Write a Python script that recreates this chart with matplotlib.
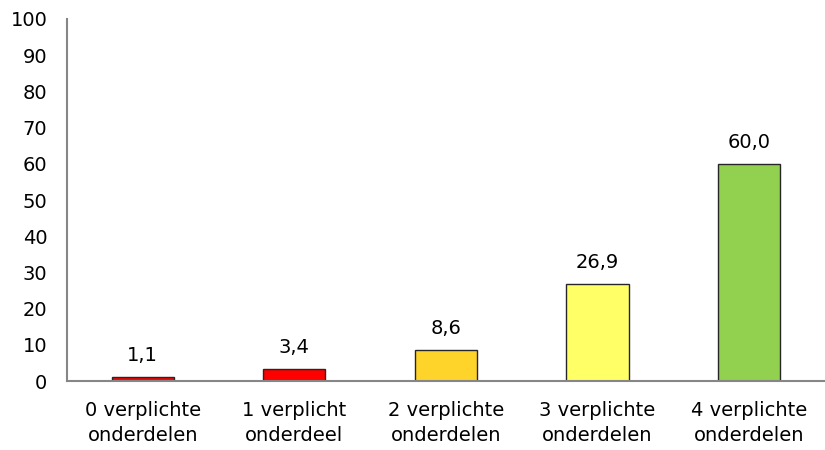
import matplotlib
matplotlib.use("Agg")
import matplotlib.pyplot as plt

# data
categories = ["0 verplichte\nonderdelen", "1 verplicht\nonderdeel", "2 verplichte\nonderdelen",
              "3 verplichte\nonderdelen", "4 verplichte\nonderdelen"]
values = [1.1, 3.4, 8.6, 26.9, 60.0]
colors = ["#FF0000", "#FF0000", "#FFD42A", "#FFFF66", "#92D050"]

fig = plt.figure(figsize=(8.25, 4.5), dpi=100)
ax = fig.add_axes([0.081, 0.153, 0.919, 0.805])

x = range(len(values))
bars = ax.bar(x, values, width=0.41, color=colors, edgecolor="#262626", linewidth=1.0)

for b, v in zip(bars, values):
    ax.text(b.get_x() + b.get_width() / 2, v + 3.3, f"{v:.1f}".replace(".", ","),
            ha="center", va="bottom", fontsize=14)

ax.set_xlim(-0.5, len(values) - 0.5)
ax.set_ylim(0, 100)
ax.set_yticks(range(0, 101, 10))
ax.set_xticks(list(x))
ax.set_xticklabels(categories, fontsize=14, linespacing=1.4)
ax.tick_params(axis="y", length=0, labelsize=14, pad=14)
ax.tick_params(axis="x", length=0, pad=14)

for s in ["top", "right"]:
    ax.spines[s].set_visible(False)
for s in ["left", "bottom"]:
    ax.spines[s].set_color("#868686")
    ax.spines[s].set_linewidth(1.5)

fig.savefig("out.png", dpi=100)
